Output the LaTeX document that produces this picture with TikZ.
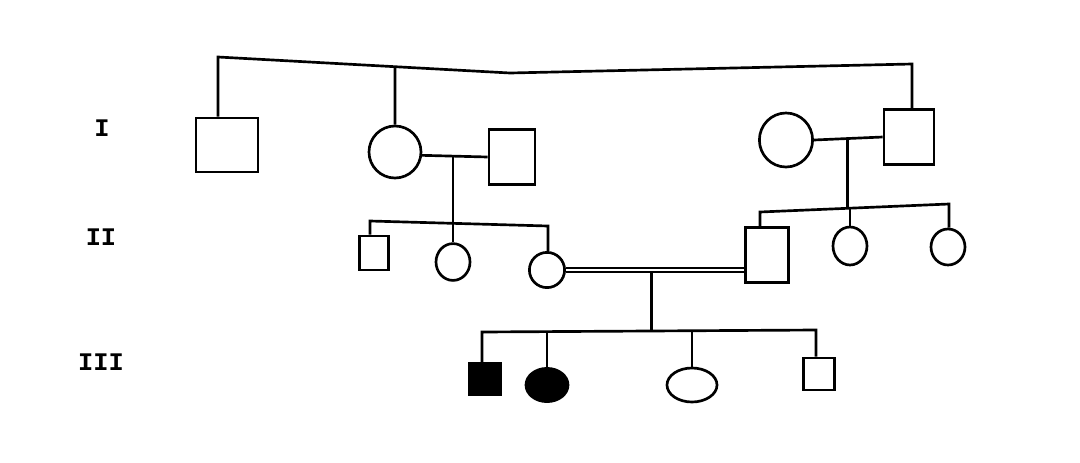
\documentclass[tikz,border=0pt]{standalone}
\usepackage{fontspec}
\usepackage{tikz}
\usetikzlibrary{calc,positioning,shapes.geometric}
\newfontfamily\genfont{Liberation Mono}
\tikzset{%
	male/.style     = {draw, rectangle, line width=1.9pt, inner sep=0pt}, % Male
	female/.style   = {draw, ellipse, line width=1.9pt, inner sep=0pt}, % Female
	affected/.style = {fill=black}, % Affected
	gen/.style      = {font=\genfont\bfseries\fontsize{18}{20}\selectfont}, % Generation
	link/.style     = {line width=1.9pt},
	twin/.style     = {line width=1.3pt, double, double distance=1.6pt},
}

\begin{document}
\begin{tikzpicture}[x=0.025cm,y=-0.025cm]
	\useasboundingbox (0,0) rectangle (1080,462);
	\node [gen] (g1) at (102,128) {I};
	\node [gen] (g2) at (101,237) {II};
	\node [gen] (g3) at (101,362) {III};
	
	% generation I
	\node [male, minimum width=1.55cm, minimum height=1.35cm] (i1) at (227,145) {};
	\node [female, minimum width=1.3cm, minimum height=1.3cm] (i2) at (395,152) {};
	\node [male, minimum width=1.15cm, minimum height=1.375cm] (i3) at (512,157) {};
	\node [female, minimum width=1.33cm, minimum height=1.35cm] (i4) at (786,140) {};
	\node [male, minimum width=1.25cm, minimum height=1.375cm] (i5) at (909,137) {};
	
	% generation II
	\node [male, minimum width=0.725cm, minimum height=0.85cm] (ii1) at (374,253) {};
	\node [female, minimum width=0.85cm, minimum height=0.92cm] (ii2) at (453,262) {};
	\node [female, minimum width=0.88cm, minimum height=0.88cm] (ii3) at (547,270) {};
	\node [male, minimum width=1.075cm, minimum height=1.375cm] (ii4) at (767,255) {};
	\node [female, minimum width=0.85cm, minimum height=0.95cm] (ii5) at (850,246) {};
	\node [female, minimum width=0.85cm, minimum height=0.9cm] (ii6) at (948,247) {};
	
	% generation III
	\node [male, affected, minimum width=0.78cm, minimum height=0.78cm] (iii1) at (485,379) {};
	\node [female, affected, minimum width=1.05cm, minimum height=0.83cm] (iii2) at (547,385) {};
	\node [female, minimum width=1.25cm, minimum height=0.85cm] (iii3) at (692,385) {};
	\node [male, minimum width=0.78cm, minimum height=0.8cm] (iii4) at (819,374) {};
	
	\coordinate (topl) at (218,57);
	\coordinate (topm) at (510,73);
	\coordinate (topr) at (912,64);
	\coordinate (topc) at ($(topl)!0.606!(topm)$);
	\coordinate (s2a) at (370,221);
	\coordinate (s2b) at (548,226);
	\coordinate (s3a) at (760,212);
	\coordinate (s3b) at (949,204);
	\coordinate (s4a) at (482,332);
	\coordinate (s4b) at (816,330);
	\coordinate (m1) at ($(i2.-7)!0.47!(i3.west)$);
	\coordinate (m2) at ($(i4.east)!0.49!(i5.west)$);
	\coordinate (m3) at ($(ii3.east)!0.48!(ii4.west |- ii3.east)$);
	\coordinate (p1) at ($(s2a)!(m1)!(s2b)$);
	\coordinate (p2) at ($(s2a)!(ii2.north)!(s2b)$);
	\coordinate (p3) at ($(s3a)!(m2)!(s3b)$);
	\coordinate (p4) at ($(s3a)!(ii5.north)!(s3b)$);
	\coordinate (p5) at ($(s4a)!(m3)!(s4b)$);
	\coordinate (p6) at ($(s4a)!(iii2.north)!(s4b)$);
	\coordinate (p7) at ($(s4a)!(iii3.north)!(s4b)$);
	
	\draw [link] (i1.north -| topl) -- (topl) -- (topm) -- (topr) -- (topr |- i5.north);
	\draw [link] (topc) -- (i2.north);
	\draw [link] (i2.-7) -- (i3.west);
	\draw [link] (i4.east) -- (i5.west);
	
	\draw [link] (ii1.north -| s2a) -- (s2a) -- (s2b) -- (s2b |- ii3.north);
	\draw [link] (m1) -- (p1 -| m1);
	\draw [link] (p2 -| ii2.north) -- (ii2.north);
	\draw [link] (ii4.north -| s3a) -- (s3a) -- (s3b) -- (s3b |- ii6.north);
	\draw [link] (m2) -- (p3 -| m2);
	\draw [link] (p4 -| ii5.north) -- (ii5.north);
	
	\draw [link] (m3) -- (p5 -| m3);
	\draw [twin] (ii3.east) -- (ii4.west |- ii3.east);
	\draw [link] (iii1.north -| s4a) -- (s4a) -- (s4b) -- (s4b |- iii4.north);
	\draw [link] (p6 -| iii2.north) -- (iii2.north);
	\draw [link] (p7 -| iii3.north) -- (iii3.north);
\end{tikzpicture}
\end{document}
